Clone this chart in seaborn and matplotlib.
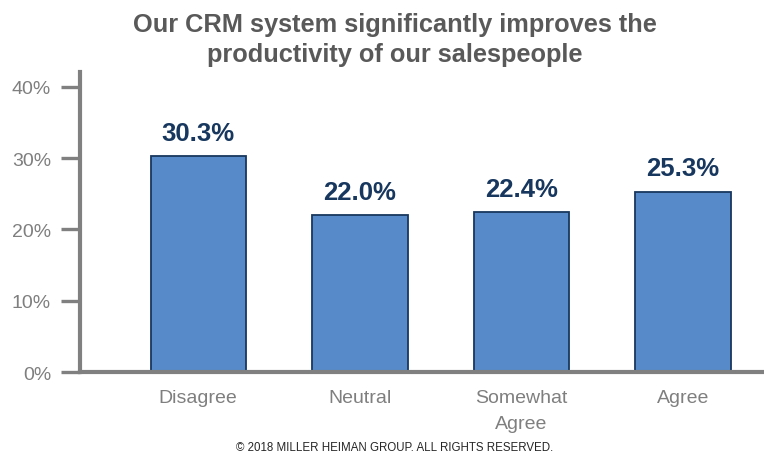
import matplotlib.pyplot as plt
import seaborn as sns
import pandas as pd

categories = ['Disagree', 'Neutral', 'Somewhat\nAgree', 'Agree']
values = [30.3, 22.0, 22.4, 25.3]
yticks = [0, 10, 20, 30, 40]

title = 'Our CRM system significantly improves the\nproductivity of our salespeople'
footer = '\u00a9 2018 MILLER HEIMAN GROUP. ALL RIGHTS RESERVED.'

df = pd.DataFrame({'answer': categories, 'pct': values})

sns.set_style('white')
plt.rcParams['font.family'] = ['Liberation Sans', 'DejaVu Sans']

fig = plt.figure(figsize=(7.64, 4.56), dpi=100)
ax = fig.add_axes([0.105, 0.182, 0.895, 0.658])

sns.barplot(data=df, x='answer', y='pct', ax=ax, color='#568ac8',
            saturation=1, width=0.59, edgecolor='#17375e', linewidth=1.3)

for i, v in enumerate(values):
    ax.text(i, v + 1.6, f'{v:.1f}%', ha='center', va='bottom',
            fontsize=18.5, fontweight='bold', color='#17375e')

ax.set_xlim(-0.73, 3.5)
ax.set_ylim(0, 42.1)
ax.set_yticks(yticks)
ax.set_yticklabels([f'{t}%' for t in yticks], fontsize=14, color='#7f7f7f')
ax.tick_params(axis='y', left=True, length=14, width=2.4, color='#808080',
               pad=7, direction='out')
ax.tick_params(axis='x', length=0, pad=12, labelsize=14, labelcolor='#7f7f7f')
for lab in ax.get_xticklabels():
    lab.set_linespacing(1.7)
ax.set_xlabel('')
ax.set_ylabel('')

for side in ['top', 'right']:
    ax.spines[side].set_visible(False)
for side in ['left', 'bottom']:
    ax.spines[side].set_color('#808080')
    ax.spines[side].set_linewidth(3)

fig.text(0.517, 0.972, title, ha='center', va='top', fontsize=18.3,
         fontweight='bold', color='#595959', linespacing=1.35)
fig.text(0.517, 0.004, footer, ha='center', va='bottom', fontsize=8.3, color='#262626')

fig.savefig('out.png', dpi=100)
